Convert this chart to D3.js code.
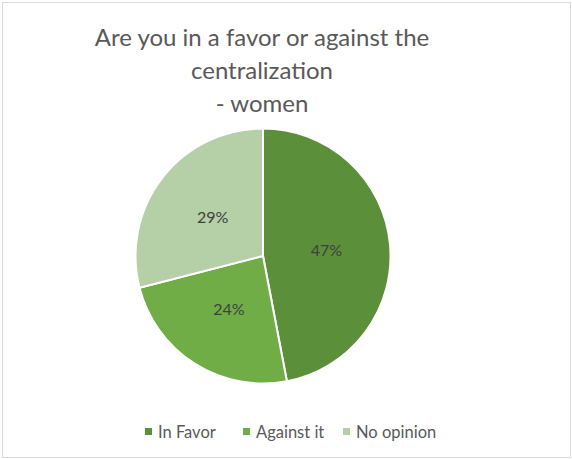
<!DOCTYPE html>
<html>
<head>
<meta charset="utf-8">
<script src="https://cdn.jsdelivr.net/npm/d3@7"></script>
<style>
  html, body { margin: 0; padding: 0; background: #fff; }
  svg { display: block; }
</style>
</head>
<body>
<svg id="chart" width="572" height="459"></svg>
<script>
// Survey answers (women): share of each response
const categories = ["In Favor", "Against it", "No opinion"];
const values = [47, 24, 29];
const colors = ["#5B8F3A", "#70AD47", "#B5CFA6"];
const titleLines = ["Are you in a favor or against the", "centralization", "- women"];

const W = 572, H = 459;
const svg = d3.select("#chart");
const font = "Lato, 'Open Sans', sans-serif";

// chart frame
svg.append("rect")
  .attr("x", 2.5).attr("y", 2.5)
  .attr("width", W - 4).attr("height", H - 4)
  .attr("fill", "#fff")
  .attr("stroke", "#D9D9D9").attr("stroke-width", 1);

// title
const title = svg.append("text")
  .attr("text-anchor", "middle")
  .attr("fill", "#595959")
  .style("font-family", font)
  .style("font-size", "24px");
titleLines.forEach((t, i) => {
  title.append("tspan").attr("x", 262).attr("y", 46 + i * 33).text(t);
});

// pie
const cx = 263, cy = 256, r = 127.5;
const pie = d3.pie().sort(null).value(d => d.value);
const arcs = pie(categories.map((c, i) => ({ name: c, value: values[i], color: colors[i] })));
const arc = d3.arc().innerRadius(0).outerRadius(r);
const labelArc = d3.arc().innerRadius(r * 0.5).outerRadius(r * 0.5);

const g = svg.append("g").attr("transform", `translate(${cx},${cy})`);
g.selectAll("path.slice")
  .data(arcs)
  .join("path")
  .attr("class", "slice")
  .attr("d", arc)
  .attr("fill", d => d.data.color)
  .attr("stroke", "#fff")
  .attr("stroke-width", 2)
  .attr("stroke-linejoin", "round");

const total = d3.sum(values);
g.selectAll("text.pct")
  .data(arcs)
  .join("text")
  .attr("class", "pct")
  .attr("transform", d => `translate(${labelArc.centroid(d)})`)
  .attr("text-anchor", "middle")
  .attr("dy", "0.35em")
  .attr("fill", "#404040")
  .style("font-family", font)
  .style("font-size", "16px")
  .text(d => Math.round(d.data.value / total * 100) + "%");

// legend
const legendX = [145, 243, 343];
const legend = svg.append("g");
categories.forEach((c, i) => {
  const item = legend.append("g").attr("transform", `translate(${legendX[i]},428)`);
  item.append("rect").attr("width", 7).attr("height", 7).attr("fill", colors[i]);
  item.append("text")
    .attr("x", 13).attr("y", 9.5)
    .attr("fill", "#595959")
    .style("font-family", font)
    .style("font-size", "16.5px")
    .text(c);
});
</script>
</body>
</html>
